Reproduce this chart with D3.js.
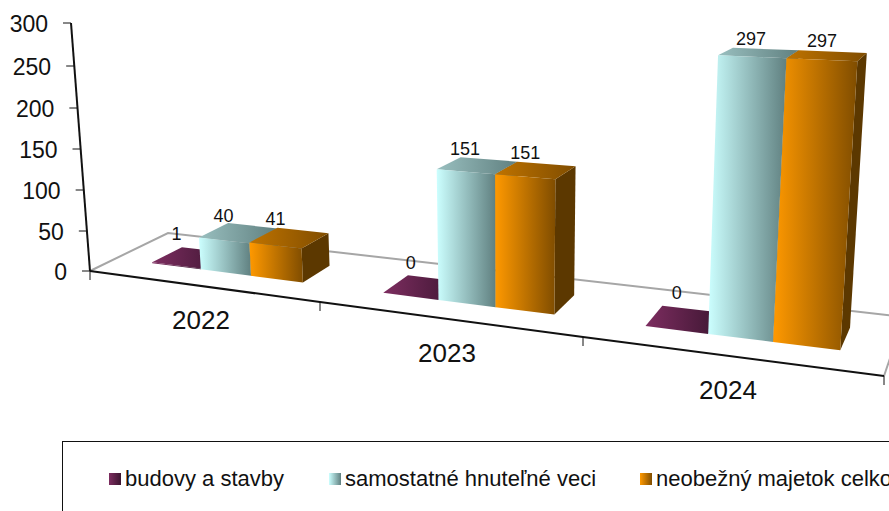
<!DOCTYPE html>
<html>
<head>
<meta charset="utf-8">
<script src="https://cdn.jsdelivr.net/npm/d3@7"></script>
<style>
  html, body { margin: 0; padding: 0; background: #fff; overflow: hidden; }
  text { font-family: "Liberation Sans", Arial, sans-serif; fill: #111; }
</style>
</head>
<body>
<svg id="chart" width="889" height="511"></svg>
<script>
const years = ["2022", "2023", "2024"];
const seriesNames = ["budovy a stavby", "samostatné hnuteľné veci", "neobežný majetok celkom"];
const budovy = [1, 0, 0];
const samostatne = [40, 151, 297];
const neobezny = [41, 151, 297];
const yTicks = [0, 50, 100, 150, 200, 250, 300];
const allSeries = [budovy, samostatne, neobezny];

const svg = d3.select("#chart");

// floor of the 3d box, u = category position, w = depth
// half steps are in there because perspective pulls the midpoints to the far side
const catIdx = [0, 1, 2, 3];
const knots = [0, 0.5, 1, 1.5, 2, 2.5, 3];
const frontX = d3.scaleLinear().domain(knots).range([90, 201, 320, 447, 583, 728, 884]);
const frontY = d3.scaleLinear().domain(knots).range([271, 286, 302, 319, 337, 356, 376]);
const backX = d3.scaleLinear().domain(knots).range([168, 274, 386, 505, 630, 763, 904]);
const backY = d3.scaleLinear().domain(knots).range([233, 245, 258, 272, 286, 301, 317]);
// px per value unit grows toward the viewer
const perUnit = d3.scaleLinear().domain([270, 350]).range([0.8, 0.973]);
// vertical edges fan out from a point far below the chart
const vanishX = 514, vanishDist = 5500;

const band = d3.scaleBand().domain(d3.range(3)).range([0, 1]).paddingInner(0).paddingOuter(0.75);
const depth0 = 0.33, depth1 = 0.72;

function project(u, w, v) {
  const fx = frontX(u) + (backX(u) - frontX(u)) * w;
  const fy = frontY(u) + (backY(u) - frontY(u)) * w;
  const h = v * perUnit(fy);
  return [fx + (h * (fx - vanishX)) / vanishDist, fy - h];
}

const defs = svg.append("defs");
function grad(id, c0, c1) {
  const g = defs.append("linearGradient").attr("id", id);
  g.append("stop").attr("offset", "0%").attr("stop-color", c0);
  g.append("stop").attr("offset", "100%").attr("stop-color", c1);
}
const frontCols = [["#7d2d60", "#3b1530"], ["#ccffff", "#608080"], ["#ff9900", "#804d00"]];
const topCols = [["#7d2d60", "#3b1530"], ["#99bfbf", "#608080"], ["#bf7300", "#804d00"]];
const sideCols = ["#3b1530", "#4d6666", "#5c3800"];
frontCols.forEach((c, i) => grad("front" + i, c[0], c[1]));
topCols.forEach((c, i) => grad("top" + i, c[0], c[1]));

const quad = d3.line();
const poly = (pts) => quad(pts) + "Z";

// floor outline, back first
const floor = svg.append("g").attr("fill", "none");
floor.append("path")
  .attr("d", quad([[frontX(3), frontY(3)], [backX(3), backY(3)]]))
  .attr("stroke", "#a6a6a6").attr("stroke-width", 2);
floor.append("path")
  .attr("d", quad([[frontX(0), frontY(0)], [backX(0), backY(0)], [backX(3), backY(3)]]))
  .attr("stroke", "#a6a6a6").attr("stroke-width", 2);

// bars
const bars = svg.append("g");
years.forEach((yr, c) => {
  allSeries.forEach((vals, s) => {
    const v = vals[c];
    const u0 = c + band(s), u1 = u0 + band.bandwidth();
    const g = bars.append("g");
    g.append("path")
      .attr("d", poly([project(u1, depth0, 0), project(u1, depth1, 0), project(u1, depth1, v), project(u1, depth0, v)]))
      .attr("fill", sideCols[s]);
    g.append("path")
      .attr("d", poly([project(u0, depth0, v), project(u1, depth0, v), project(u1, depth1, v), project(u0, depth1, v)]))
      .attr("fill", `url(#top${s})`);
    g.append("path")
      .attr("d", poly([project(u0, depth0, 0), project(u1, depth0, 0), project(u1, depth0, v), project(u0, depth0, v)]))
      .attr("fill", `url(#front${s})`);
  });
});

// front edge and category ticks
const xAxis = svg.append("g");
xAxis.append("path")
  .attr("d", quad(catIdx.map((i) => [frontX(i), frontY(i)])))
  .attr("fill", "none").attr("stroke", "#111").attr("stroke-width", 2);
xAxis.selectAll("line").data(catIdx).join("line")
  .attr("x1", (i) => frontX(i)).attr("x2", (i) => frontX(i))
  .attr("y1", (i) => frontY(i)).attr("y2", (i) => frontY(i) + 9)
  .attr("stroke", "#111").attr("stroke-width", 1);
xAxis.selectAll("text").data(years).join("text")
  .attr("x", (d, i) => frontX(i + 0.5))
  .attr("y", (d, i) => frontY(i + 0.5) + 43)
  .attr("text-anchor", "middle").attr("font-size", 26)
  .text((d) => d);

// value axis, slanted, so the ticks get moved after axisLeft has built them
const yScale = d3.scaleLinear().domain(yTicks).range([271, 231, 190, 149, 108, 66, 23]);
const yAxisX = d3.scaleLinear().domain([0, 300]).range([90, 71]);
const yAxis = svg.append("g")
  .call(d3.axisLeft(yScale).tickValues(yTicks).tickSize(8).tickPadding(15).tickFormat(d3.format("d")));
yAxis.select(".domain").remove();
yAxis.selectAll(".tick").attr("transform", (d) => `translate(${yAxisX(d)},${yScale(d)})`);
yAxis.selectAll(".tick line").attr("stroke", "#111");
yAxis.selectAll(".tick text")
  .attr("font-size", 23).attr("dy", "0.4em")
  .attr("font-family", '"Liberation Sans", Arial, sans-serif').attr("fill", "#111");
svg.append("path")
  .attr("d", quad([[yAxisX(0), yScale(0)], [yAxisX(300), yScale(300)]]))
  .attr("stroke", "#111").attr("stroke-width", 2).attr("fill", "none");

// data labels: x over the middle of the front face, y just above the back edge
const labelLift = [10, 4, 5];
const labels = svg.append("g").attr("font-size", 18).attr("text-anchor", "middle");
years.forEach((yr, c) => {
  allSeries.forEach((vals, s) => {
    const mid = c + band(s) + band.bandwidth() / 2;
    const px = project(mid, depth0, vals[c])[0];
    const py = project(mid, depth1, vals[c])[1];
    labels.append("text").attr("x", px).attr("y", py - labelLift[s]).text(vals[c]);
  });
});

// legend, runs off the page on the right and bottom like the source
const legend = svg.append("g");
legend.append("rect")
  .attr("x", 62.5).attr("y", 441.5).attr("width", 900).attr("height", 100)
  .attr("fill", "none").attr("stroke", "#111");
const legendX = [109, 329, 640];
seriesNames.forEach((name, i) => {
  legend.append("rect")
    .attr("x", legendX[i]).attr("y", 473).attr("width", 12).attr("height", 12)
    .attr("fill", `url(#front${i})`);
  legend.append("text")
    .attr("x", legendX[i] + 16).attr("y", 486)
    .attr("font-size", 22).text(name);
});
</script>
</body>
</html>
